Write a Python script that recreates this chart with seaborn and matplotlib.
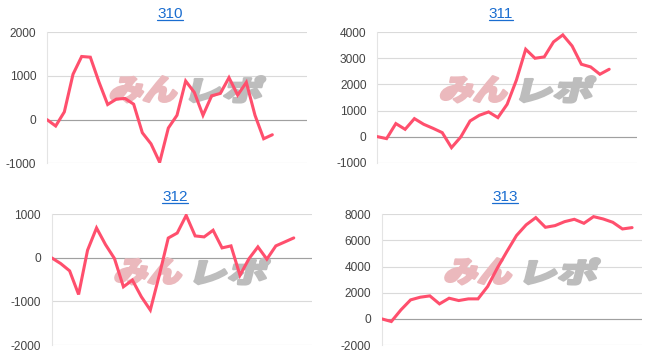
import matplotlib
matplotlib.use("Agg")
import matplotlib.pyplot as plt
import seaborn as sns
import pandas as pd
from matplotlib.textpath import TextPath
from matplotlib.font_manager import FontProperties
from matplotlib.patches import PathPatch
from matplotlib.transforms import Affine2D, IdentityTransform
from matplotlib.lines import Line2D
import math

# ---------------- data ----------------
titles = ["310", "311", "312", "313"]
s310 = [0, -146, 177, 1038, 1446, 1430, 860, 346, 470, 485, 354, -300, -554, -977,
        -192, 100, 885, 623, 100, 546, 600, 962, 562, 854, 100, -438, -346]
s311 = [0, -77, 500, 280, 690, 473, 320, 153, -422, -13, 600, 818, 946, 729, 1240,
        2170, 3350, 3005, 3056, 3632, 3900, 3478, 2775, 2673, 2391, 2583]
s312 = [0, -130, -298, -840, 176, 687, 305, -15, -664, -511, -893, -1198, -400, 455,
        570, 975, 504, 481, 634, 229, 275, -400, -20, 252, -30, 275, 366, 458]
s313 = [0, -204, 690, 1452, 1656, 1758, 1146, 1580, 1401, 1529, 1529, 2474, 3878,
        5153, 6378, 7194, 7745, 7006, 7134, 7439, 7618, 7312, 7822, 7643, 7388, 6879, 6981]
series = [s310, s311, s312, s313]
yticks = [[-1000, 0, 1000, 2000],
          [-1000, 0, 1000, 2000, 3000, 4000],
          [-2000, -1000, 0, 1000],
          [-2000, 0, 2000, 4000, 6000, 8000]]
ytick_labels = [[str(v) for v in t] for t in yticks]
xmax = [30, 28, 29, 27]
watermark_parts = ["みん", "レポ"]

# ---------------- style ----------------
sns.set_style("white")
plt.rcParams["font.family"] = ["Liberation Sans", "DejaVu Sans"]
plt.rcParams["axes.unicode_minus"] = False

W, H = 655, 358
fig = plt.figure(figsize=(W / 100, H / 100), dpi=100)

# pixel boxes: left, top, right, bottom
boxes = [(47, 32.3, 307, 163.3),
         (377.3, 32.3, 637, 162.7),
         (51.7, 214.3, 311.7, 345),
         (381.7, 214.3, 641.7, 345)]
title_pos = [(170, 17.6), (500.7, 17.6), (175, 200.6), (505, 200.6)]

LINE = "#ff4f6d"
GRID = "#dadada"
ZERO = "#a0a0a0"
BLUE = "#1a6dd0"

fp_wm = FontProperties(family="Noto Sans CJK JP", weight="heavy")


def add_watermark(ax, l, t):
    specs = [(watermark_parts[0], "#ebb9bd", 62, 134),
             (watermark_parts[1], "#bdbdbd", 142, 219)]
    h = 26
    ang = 14
    for text, color, x0, x1 in specs:
        tp = TextPath((0, 0), text, size=30, prop=fp_wm)
        ext = tp.get_extents()
        w = x1 - x0
        sx = (w - h * math.tan(math.radians(ang))) / ext.width
        sy = h / ext.height
        tr = (Affine2D().translate(-ext.x0, -ext.y0).scale(sx, sy)
              .skew_deg(ang, 0).translate(l + x0, H - (t + 70)))
        path = tr.transform_path(tp)
        patch = PathPatch(path, facecolor=color, edgecolor=color, linewidth=1.8,
                          joinstyle="round",
                          transform=IdentityTransform(), zorder=1.5, clip_on=False)
        ax.add_artist(patch)


for i, (l, t, r, b) in enumerate(boxes):
    ax = fig.add_axes([l / W, 1 - b / H, (r - l) / W, (b - t) / H])
    df = pd.DataFrame({"x": list(range(len(series[i]))), "y": series[i]})
    sns.lineplot(data=df, x="x", y="y", ax=ax, color=LINE, linewidth=2.2,
                 zorder=3, solid_joinstyle="miter")
    ax.set_xlim(0, xmax[i])
    ax.set_ylim(yticks[i][0], yticks[i][-1])
    ax.set_xticks([])
    ax.set_yticks(yticks[i])
    ax.set_yticklabels(ytick_labels[i])
    ax.set_xlabel("")
    ax.set_ylabel("")
    ax.set_axisbelow(True)
    ax.yaxis.grid(True, color=GRID, linewidth=0.8)
    ax.axhline(0, color=ZERO, linewidth=0.8, zorder=1)
    for sp in ["top", "right", "bottom"]:
        ax.spines[sp].set_visible(False)
    ax.spines["left"].set_color("#e4e4e4")
    ax.spines["left"].set_linewidth(0.8)
    ax.tick_params(axis="y", length=0, pad=7.8, labelsize=8.6, labelcolor="#444444")
    ax.patch.set_alpha(0)
    add_watermark(ax, l, t)

# titles with underline
texts = []
for i, (cx, by) in enumerate(title_pos):
    txt = fig.text(cx / W, 1 - by / H, titles[i], ha="center", va="baseline",
                   color=BLUE, fontsize=11)
    texts.append((txt, by))

fig.canvas.draw()
renderer = fig.canvas.get_renderer()
for txt, by in texts:
    bb = txt.get_window_extent(renderer)
    yline = H - (by + 2)
    fig.add_artist(Line2D([bb.x0, bb.x1], [yline, yline], color=BLUE,
                          linewidth=0.9, transform=IdentityTransform()))

fig.savefig("out.png", dpi=100)
